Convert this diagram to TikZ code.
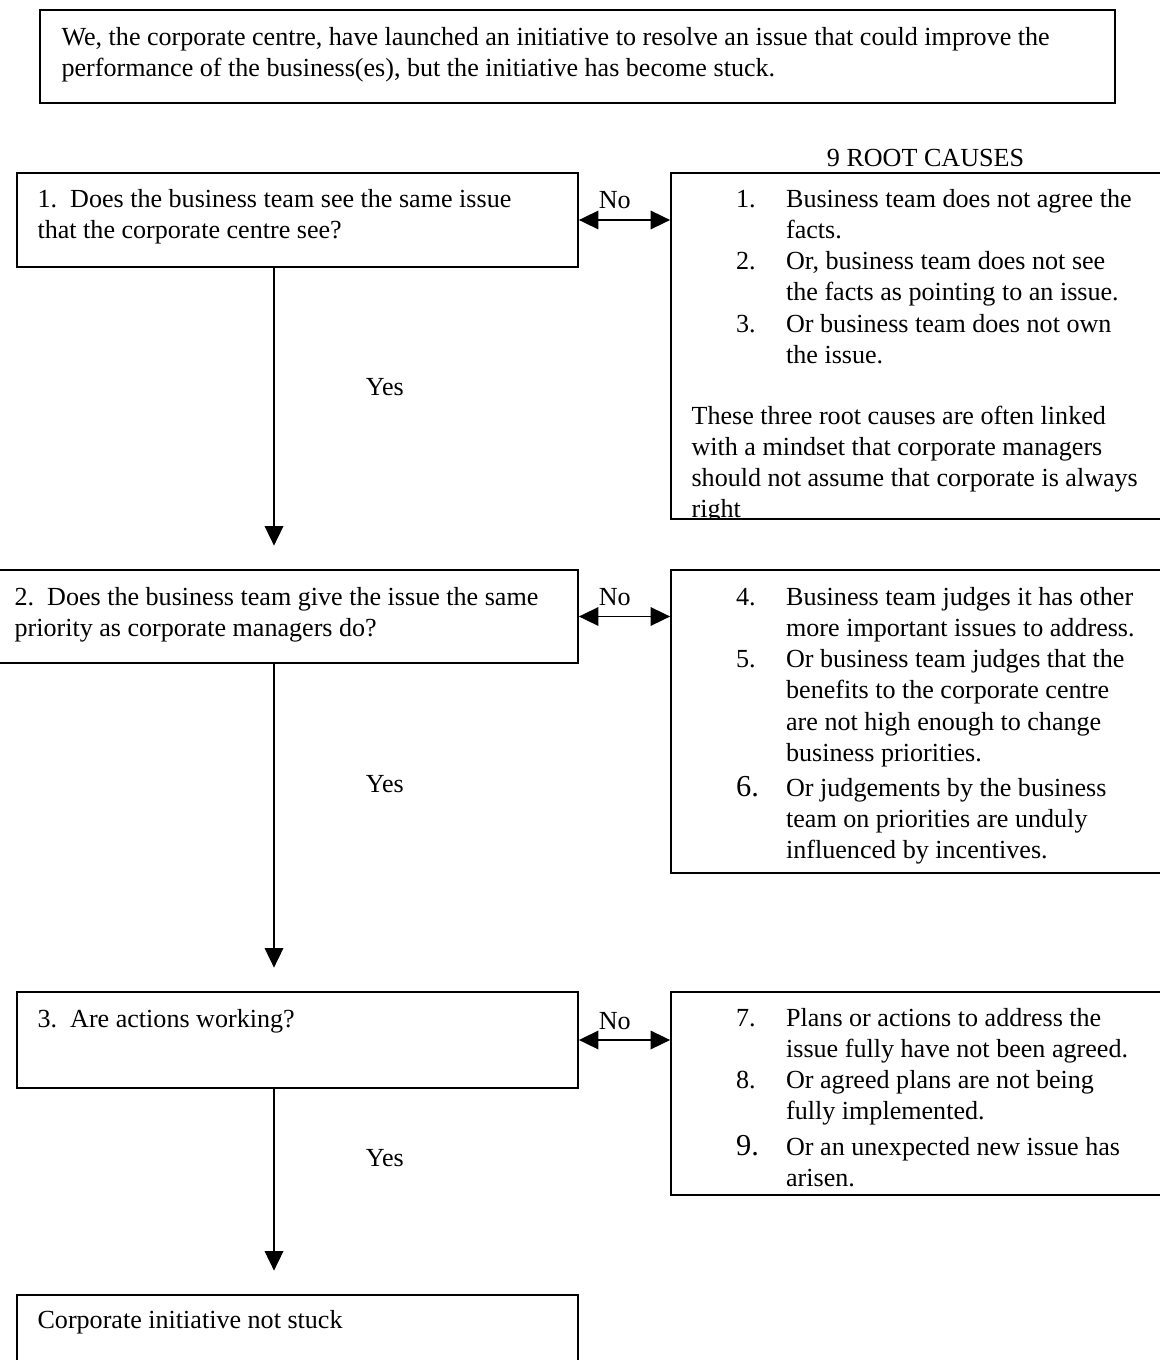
\documentclass[tikz,border=0pt]{standalone}
\usepackage{fontspec}
\setmainfont{Liberation Serif}
\usetikzlibrary{arrows.meta, positioning, fit}
\newcommand\itm[1]{\hspace*{20.5pt}\makebox[23pt][l]{#1}}
\newcommand\cnt{\hspace*{43.5pt}}
\newcommand\bignum[1]{{\fontsize{14}{14}\selectfont #1}}

\begin{document}
\begin{tikzpicture}[
  x=0.46pt, y=-0.46pt,
  every node/.style={font=\fontsize{12}{14.3}\selectfont},
  panel/.style={draw, line width=0.8pt, inner sep=0pt},
  txt/.style={anchor=north west, inner sep=0pt, align=left,
              execute at begin node=\strut},
  lbl/.style={inner sep=0pt},
  flow/.style={line width=0.9pt, -{Triangle[width=8.5pt,length=9pt]},
               shorten >=10.8pt},
  link/.style={line width=0.9pt,
               {Triangle[width=8.5pt,length=9pt]}-{Triangle[width=8.5pt,length=9pt]}}
]
\path[use as bounding box] (0,0) rectangle (1160,1360);
\clip (0,0) rectangle (1160,1360);

% starting situation
\node[panel, fit={(40,10) (1115,103)}] (intro) {};
\node[txt] (introt) at ([shift={(22,18)}]intro.north west)
  {We, the corporate centre, have launched an initiative to resolve an issue that could improve the\\
   performance of the business(es), but the initiative has become stuck.};

% questions
\node[panel, fit={(17,173) (578,267)}] (q1) {};
\node[txt] (q1t) at ([shift={(21,17)}]q1.north west)
  {1.\ \ Does the business team see the same issue\\that the corporate centre see?};
\node[panel, fit={(-8,570) (578,663)}] (q2) {};
\node[txt] (q2t) at ([shift={(23,18)}]q2.north west)
  {2.\ \ Does the business team give the issue the same\\priority as corporate managers do?};
\node[panel, fit={(17,992) (578,1088)}] (q3) {};
\node[txt] (q3t) at ([shift={(21,14)}]q3.north west) {3.\ \ Are actions working?};
\node[panel, fit={(17,1295) (578,1400)}] (q4) {};
\node[txt] (q4t) at ([shift={(21,12)}]q4.north west) {Corporate initiative not stuck};

% root causes
\node[panel, fit={(671,173) (1180,519)}] (c1) {};
\begin{scope}
  \clip (c1.north west) rectangle (c1.south east);
  \node[txt] (c1t) at ([shift={(21,17)}]c1.north west)
    {\itm{1.}Business team does not agree the\\
     \cnt facts.\\
     \itm{2.}Or, business team does not see\\
     \cnt the facts as pointing to an issue.\\
     \itm{3.}Or business team does not own\\
     \cnt the issue.\\[14pt]
     These three root causes are often linked\\
     with a mindset that corporate managers\\
     should not assume that corporate is always\\
     right};
\end{scope}
\node[panel, fit={(671,570) (1180,873)}] (c2) {};
\node[txt] (c2t) at ([shift={(21,18)}]c2.north west)
  {\itm{4.}Business team judges it has other\\
   \cnt more important issues to address.\\
   \itm{5.}Or business team judges that the\\
   \cnt benefits to the corporate centre\\
   \cnt are not high enough to change\\
   \cnt business priorities.\\[2pt]
   \itm{\bignum{6.}}Or judgements by the business\\
   \cnt team on priorities are unduly\\
   \cnt influenced by incentives.};
\node[panel, fit={(671,992) (1180,1195)}] (c3) {};
\node[txt] (c3t) at ([shift={(21,17)}]c3.north west)
  {\itm{7.}Plans or actions to address the\\
   \cnt issue fully have not been agreed.\\
   \itm{8.}Or agreed plans are not being\\
   \cnt fully implemented.\\[2pt]
   \itm{\bignum{9.}}Or an unexpected new issue has\\
   \cnt arisen.};
\node[lbl, anchor=base] (roots) at ([shift={(0,-6)}]c1.north) {9 ROOT CAUSES};

% connectors
\coordinate (spine) at (274,0);
\draw[flow] (q1.south -| spine) -- node[lbl, pos=0.396, xshift=51pt] (yes1) {Yes} (q2.north -| spine);
\draw[flow] (q2.south -| spine) -- node[lbl, pos=0.368, xshift=51pt] (yes2) {Yes} (q3.north -| spine);
\draw[flow] (q3.south -| spine) -- node[lbl, pos=0.338, xshift=51pt] (yes3) {Yes} (q4.north -| spine);
\draw[link] (q1.east) -- node[lbl, pos=0, anchor=base west, shift={(19,-11)}] (no1) {No} (q1.east -| c1.west);
\draw[link] (q2.east) -- node[lbl, pos=0, anchor=base west, shift={(19,-11)}] (no2) {No} (q2.east -| c2.west);
\draw[link] (q3.east) -- node[lbl, pos=0, anchor=base west, shift={(19,-11)}] (no3) {No} (q3.east -| c3.west);
\end{tikzpicture}
\end{document}
